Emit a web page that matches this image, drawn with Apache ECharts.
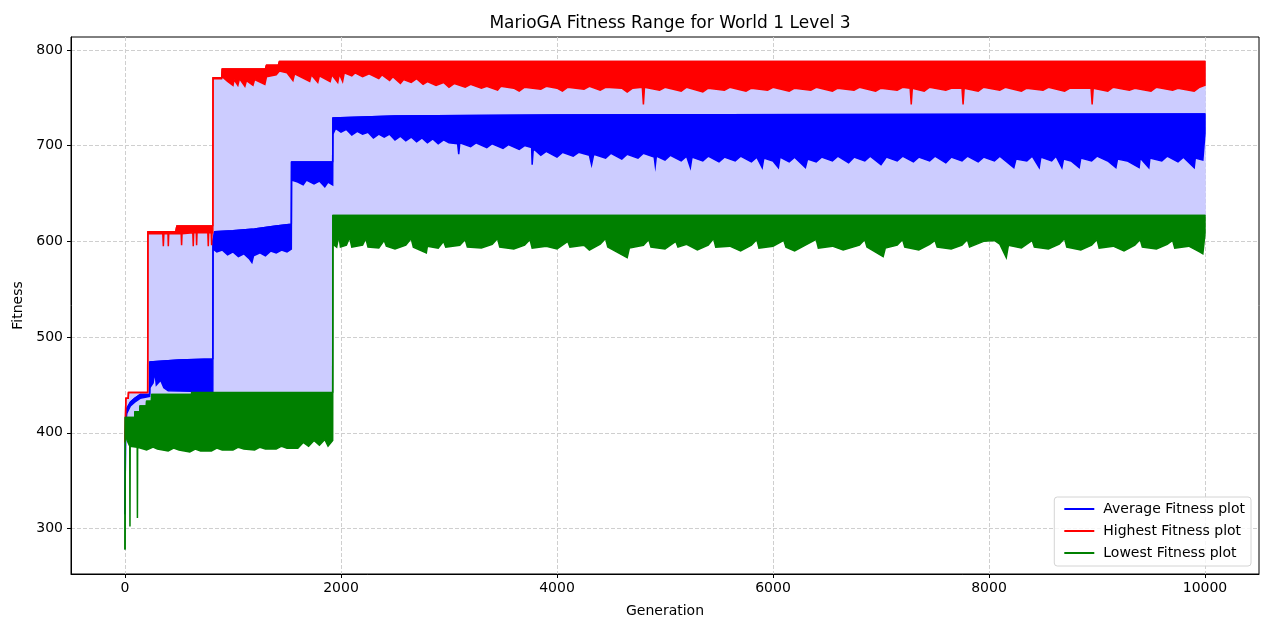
<!DOCTYPE html>
<html>
<head>
<meta charset="utf-8">
<title>MarioGA Fitness Range</title>
<script src="https://cdn.jsdelivr.net/npm/echarts@6/dist/echarts.min.js"></script>
<style>
    html, body { margin: 0; padding: 0; background: #fff; }
    #graph { width: 1263px; height: 618px; }
</style>
</head>
<body>
<div id="graph"></div>
<script>
// 刻度
let xTicks = [0, 2000, 4000, 6000, 8000, 10000];
let yTicks = [300, 400, 500, 600, 700, 800];

// Highest fitness: top edge and bottom edge of the band  [generation, fitness]
let highTop = [[0, 390], [8, 436], [30, 436], [32, 442], [210, 442], [212, 610], [470, 610], [480, 616], [813, 616],
    [815, 771], [895, 771], [900, 780], [1300, 780], [1310, 784], [1420, 784], [1430, 788], [10000, 788]];
let highLow = [[0, 390], [8, 436], [30, 436], [32, 442], [210, 442], [212, 608],
    [350, 608], [355, 595], [360, 608], [398, 608], [401, 595], [405, 608], [520, 608], [524, 596], [528, 608],
    [628, 609], [632, 595], [636, 609], [660, 609], [663, 596], [667, 609], [767, 609], [771, 595], [775, 609],
    [798, 609], [802, 596], [806, 609], [813, 609],
    [815, 770], [895, 770], [900, 772], [950, 767], [1000, 763], [1010, 769], [1045, 763], [1060, 770], [1110, 762],
    [1125, 768], [1185, 763], [1200, 769], [1295, 764], [1310, 772], [1400, 774], [1430, 778], [1500, 776],
    [1555, 768], [1570, 775], [1710, 767], [1725, 774], [1785, 766], [1800, 773], [1900, 767], [1915, 774],
    [1970, 766], [1985, 775], [2015, 767], [2030, 776], [2100, 773], [2130, 776], [2200, 772], [2260, 775],
    [2350, 770], [2380, 774], [2450, 768], [2480, 772], [2550, 765], [2580, 769], [2650, 766], [2700, 770],
    [2760, 764], [2800, 767], [2880, 763], [2950, 766], [3000, 761], [3050, 765], [3150, 761], [3200, 764],
    [3300, 760], [3350, 762], [3450, 758], [3480, 762], [3600, 760], [3650, 757], [3700, 761], [3850, 759],
    [3900, 762], [4000, 760], [4050, 757], [4100, 761], [4250, 759], [4300, 762], [4400, 758], [4450, 761],
    [4600, 760], [4650, 756], [4700, 760], [4790, 761], [4800, 743], [4810, 761], [4950, 758], [5000, 761],
    [5150, 757], [5200, 761], [5350, 756], [5400, 760], [5550, 758], [5600, 761], [5750, 757], [5800, 760],
    [5950, 758], [6000, 761], [6150, 757], [6200, 760], [6350, 758], [6400, 761], [6550, 757], [6600, 760],
    [6750, 758], [6800, 761], [6950, 757], [7000, 760], [7150, 758], [7200, 761], [7270, 760], [7280, 743],
    [7290, 760], [7400, 757], [7450, 761], [7600, 758], [7650, 760], [7750, 760], [7760, 743], [7770, 760],
    [7900, 757], [7950, 761], [8100, 758], [8150, 761], [8300, 757], [8350, 760], [8500, 758], [8550, 761],
    [8700, 757], [8750, 760], [8945, 760], [8955, 743], [8965, 760], [9100, 757], [9150, 761], [9300, 758],
    [9350, 760], [9500, 757], [9550, 761], [9700, 758], [9750, 760], [9900, 757], [9950, 761], [10000, 763]];

// Average fitness
let avgTop = [[0, 315], [5, 400], [15, 425], [50, 432], [90, 436], [140, 440], [228, 440], [230, 474], [500, 476],
    [813, 477], [815, 600], [830, 610], [1000, 611], [1200, 613], [1400, 616], [1540, 618], [1542, 683], [1923, 683],
    [1925, 729], [2500, 731], [4000, 732], [10000, 733]];
let avgLow = [[0, 315], [5, 400], [15, 420], [50, 428], [90, 432], [140, 436], [228, 438], [230, 447], [260, 452],
    [277, 464], [290, 450], [330, 455], [360, 447], [400, 444], [813, 443],
    [815, 592], [850, 589], [900, 591], [950, 586], [1000, 589], [1050, 584], [1100, 587], [1150, 582], [1175, 578],
    [1190, 585], [1250, 588], [1300, 585], [1350, 590], [1400, 588], [1450, 591], [1500, 589], [1540, 592],
    [1542, 664], [1600, 662], [1650, 659], [1680, 664], [1750, 660], [1800, 663], [1850, 657], [1880, 662], [1923, 659],
    [1925, 712], [1950, 718], [2000, 714], [2050, 717], [2100, 711], [2150, 715], [2200, 712], [2250, 714],
    [2300, 708], [2350, 712], [2400, 709], [2450, 712], [2500, 706], [2550, 710], [2600, 705], [2650, 709],
    [2700, 704], [2750, 708], [2800, 703], [2850, 707], [2900, 702], [2950, 706], [3000, 703], [3080, 702],
    [3090, 691], [3100, 703], [3200, 699], [3250, 703], [3350, 698], [3400, 702], [3500, 697], [3550, 701],
    [3650, 696], [3700, 700], [3765, 698], [3770, 680], [3780, 696], [3800, 695], [3850, 690], [3900, 694],
    [4000, 688], [4050, 693], [4150, 689], [4200, 693], [4300, 690], [4320, 680], [4340, 691], [4450, 687],
    [4500, 692], [4600, 686], [4650, 691], [4750, 687], [4800, 692], [4900, 688], [4910, 679], [4920, 689],
    [5000, 685], [5050, 690], [5150, 684], [5200, 689], [5235, 677], [5250, 688], [5350, 684], [5400, 689],
    [5500, 683], [5550, 688], [5650, 684], [5700, 689], [5800, 683], [5850, 688], [5900, 677], [5915, 687],
    [6000, 684], [6050, 677], [6065, 688], [6150, 683], [6200, 688], [6300, 677], [6320, 686], [6400, 683],
    [6450, 688], [6550, 684], [6600, 689], [6700, 682], [6750, 688], [6850, 684], [6900, 689], [7000, 680],
    [7050, 688], [7150, 684], [7200, 689], [7300, 683], [7350, 688], [7450, 684], [7500, 689], [7600, 682],
    [7650, 688], [7750, 684], [7800, 689], [7900, 683], [7950, 688], [8050, 684], [8100, 689], [8230, 677],
    [8250, 686], [8350, 684], [8400, 689], [8465, 677], [8480, 688], [8580, 684], [8620, 689], [8675, 677],
    [8690, 686], [8760, 684], [8835, 677], [8850, 687], [8950, 684], [9000, 689], [9100, 684], [9175, 677],
    [9190, 686], [9280, 684], [9390, 677], [9400, 687], [9480, 677], [9490, 687], [9600, 684], [9650, 689],
    [9750, 683], [9800, 688], [9900, 677], [9910, 687], [9980, 685], [10000, 713]];

// Lowest fitness
let lowTop = [[0, 278], [3, 416], [90, 416], [92, 422], [137, 422], [139, 428], [198, 428], [200, 433], [245, 433],
    [247, 440], [615, 440], [617, 442], [1923, 442], [1925, 627], [10000, 627]];
let lowLow = [[0, 278], [3, 400], [20, 392], [44, 386], [46, 302], [48, 386], [113, 385], [115, 311], [117, 385],
    [200, 382], [260, 385], [300, 383], [400, 381], [450, 384], [500, 382], [600, 380], [650, 383], [700, 381],
    [800, 381], [850, 384], [900, 382], [1000, 382], [1050, 385], [1100, 383], [1200, 382], [1250, 385],
    [1300, 383], [1400, 383], [1450, 386], [1500, 384], [1600, 384], [1650, 390], [1700, 386], [1750, 392],
    [1800, 387], [1850, 393], [1880, 386], [1923, 392],
    [1925, 597], [1960, 594], [1980, 606], [1995, 594], [2050, 596], [2080, 604], [2100, 594], [2200, 596],
    [2230, 603], [2250, 594], [2350, 593], [2400, 601], [2420, 595], [2500, 592], [2600, 596], [2650, 603],
    [2670, 594], [2790, 588], [2800, 595], [2900, 593], [2950, 600], [2970, 594], [3100, 596], [3150, 602],
    [3170, 594], [3300, 593], [3400, 597], [3450, 603], [3470, 594], [3600, 592], [3700, 596], [3750, 602],
    [3770, 593], [3900, 595], [4000, 592], [4100, 600], [4120, 594], [4250, 596], [4300, 591], [4400, 597],
    [4450, 603], [4470, 594], [4650, 583], [4670, 593], [4800, 596], [4850, 602], [4870, 594], [5000, 592],
    [5100, 600], [5120, 594], [5200, 597], [5300, 591], [5400, 596], [5450, 603], [5470, 594], [5600, 595],
    [5700, 590], [5800, 596], [5850, 602], [5870, 593], [6000, 595], [6100, 601], [6120, 594], [6200, 590],
    [6300, 596], [6400, 602], [6420, 593], [6550, 595], [6650, 591], [6800, 596], [6850, 602], [6870, 594],
    [7020, 584], [7040, 593], [7150, 596], [7200, 602], [7220, 594], [7350, 591], [7450, 597], [7500, 601],
    [7520, 594], [7650, 592], [7750, 596], [7800, 602], [7820, 594], [7950, 600], [8050, 601], [8100, 597],
    [8160, 583], [8180, 596], [8300, 593], [8400, 601], [8420, 594], [8550, 592], [8650, 597], [8700, 603],
    [8720, 594], [8850, 591], [8950, 596], [9000, 602], [9020, 593], [9150, 595], [9250, 590], [9350, 596],
    [9400, 602], [9420, 594], [9550, 592], [9650, 597], [9700, 601], [9720, 593], [9850, 595], [9950, 589],
    [9980, 587], [10000, 608]];

let font = 'DejaVu Sans';

// 把上下边缘连成一个多边形, 用坐标轴换算
function band(name, top, low, color, z) {
    let poly = top.concat(low.slice().reverse());
    return {
        name: name,
        type: 'custom',
        z: z,
        silent: true,
        data: [[0, 500]],
        renderItem: function (params, api) {
            let pts = poly.map(function (p) {
                return api.coord(p);
            });
            return {
                type: 'polygon',
                shape: { points: pts },
                style: { fill: color, stroke: color, lineWidth: 1.5 }
            };
        }
    };
}

function edge(name, data, color, z) {
    return {
        name: name,
        type: 'line',
        z: z,
        data: data,
        symbol: 'none',
        silent: true,
        lineStyle: { color: color, width: 1.5 },
        itemStyle: { color: color }
    };
}

var myChart = echarts.init(document.getElementById('graph'));
var option = {
    animation: false,
    backgroundColor: '#fff',
    title: {
        text: 'MarioGA Fitness Range for World 1 Level 3',
        left: 665,
        top: 10,
        textAlign: 'center',
        textStyle: { fontFamily: font, fontSize: 17, fontWeight: 'normal', color: '#000' }
    },
    grid: {
        left: 71, right: 4, top: 37, bottom: 44,
        outerBoundsMode: 'none',
        containLabel: false,
        show: true, borderColor: '#000', borderWidth: 1
    },
    legend: {
        orient: 'vertical',
        right: 12,
        bottom: 52,
        data: [
            { name: 'Average Fitness plot', icon: 'rect' },
            { name: 'Highest Fitness plot', icon: 'rect' },
            { name: 'Lowest Fitness plot', icon: 'rect' }
        ],
        itemWidth: 30,
        itemHeight: 2,
        itemGap: 8,
        padding: [5, 6, 6, 10],
        borderColor: '#d4d4d4',
        borderWidth: 1,
        borderRadius: 3,
        backgroundColor: 'rgba(255,255,255,0.8)',
        textStyle: { fontFamily: font, fontSize: 14, color: '#000', padding: [0, 0, 0, 4] }
    },
    xAxis: {
        type: 'value',
        min: -500,
        max: 10500,
        name: 'Generation',
        nameLocation: 'middle',
        nameGap: 30,
        nameTextStyle: { fontFamily: font, fontSize: 14, color: '#000' },
        axisLine: { onZero: false, lineStyle: { color: '#000' } },
        axisTick: { customValues: xTicks, length: 4, lineStyle: { color: '#000' } },
        axisLabel: {
            customValues: xTicks, margin: 7, fontFamily: font, fontSize: 14, color: '#000',
            formatter: function (v) { return String(v); }
        },
        splitLine: { show: true, lineStyle: { color: '#cfcfcf', type: [4, 2] } }
    },
    yAxis: {
        type: 'value',
        min: 252.5,
        max: 813.5,
        name: 'Fitness',
        nameLocation: 'middle',
        nameGap: 43,
        nameTextStyle: { fontFamily: font, fontSize: 14, color: '#000' },
        axisLine: { show: true, onZero: false, lineStyle: { color: '#000' } },
        axisTick: { show: true, customValues: yTicks, length: 4, lineStyle: { color: '#000' } },
        axisLabel: {
            customValues: yTicks, margin: 8, fontFamily: font, fontSize: 14, color: '#000',
            formatter: function (v) { return String(v); }
        },
        splitLine: { show: true, lineStyle: { color: '#cfcfcf', type: [4, 2] } }
    },
    series: [
        edge('Average Fitness plot', avgTop, '#0000ff', 3),
        edge('Highest Fitness plot', highTop, '#ff0000', 4),
        edge('Lowest Fitness plot', lowTop, '#008000', 5),
        band('fill', highTop, lowTop, '#ccccff', 1),
        band('Average Fitness plot', avgTop, avgLow, '#0000ff', 3),
        band('Highest Fitness plot', highTop, highLow, '#ff0000', 4),
        band('Lowest Fitness plot', lowTop, lowLow, '#008000', 5)
    ]
};
myChart.setOption(option);
</script>
</body>
</html>
